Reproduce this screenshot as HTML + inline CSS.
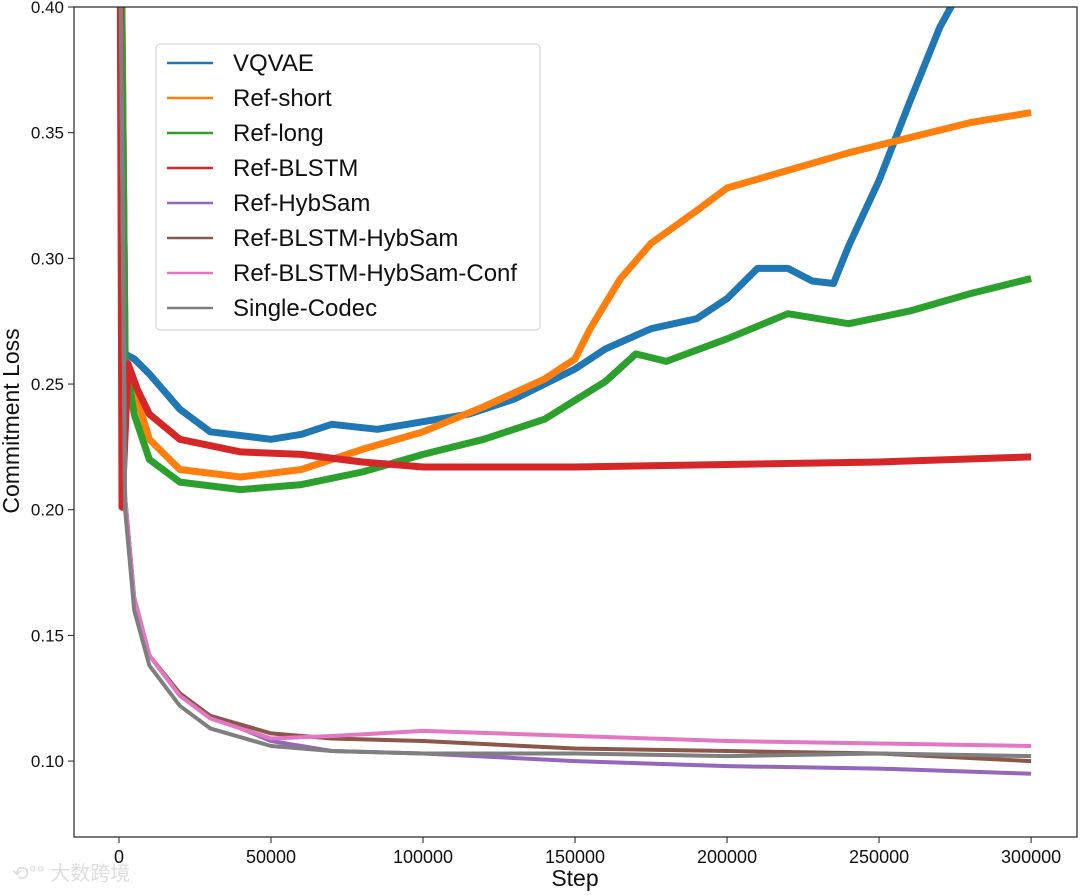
<!DOCTYPE html>
<html><head><meta charset="utf-8"><style>
body{margin:0;background:#fff;}
svg text{font-family:"Liberation Sans","DejaVu Sans",sans-serif;}
</style></head><body>
<svg id="chart" width="1080" height="891" xmlns="http://www.w3.org/2000/svg">
<rect width="1080" height="891" fill="#fff"/>
<g id="plot"></g>
<g id="axes"></g>
<g id="legend"></g>
<text x="19" y="421" font-size="23" text-anchor="middle" transform="rotate(-90 19 421)" fill="#111">Commitment Loss</text>
<text x="575" y="886" font-size="23" text-anchor="middle" fill="#111">Step</text>
<text x="12" y="880" font-size="20" fill="#ddd">⟲°° 大数跨境</text>
</svg>
<script>
const seriesNames=["VQVAE","Ref-short","Ref-long","Ref-BLSTM","Ref-HybSam","Ref-BLSTM-HybSam","Ref-BLSTM-HybSam-Conf","Single-Codec"];
const seriesColors=["#1f77b4","#ff7f0e","#2ca02c","#d62728","#9467bd","#8c564b","#e377c2","#7f7f7f"];
const xTicks=[0,50000,100000,150000,200000,250000,300000];
const yTicks=[0.10,0.15,0.20,0.25,0.30,0.35,0.40];
const vqvaeX=[800,2000,5000,10000,20000,30000,50000,60000,70000,85000,100000,115000,130000,150000,160000,175000,190000,200000,205000,210000,220000,228000,235000,240000,250000,260000,270000,275000];
const vqvaeY=[0.42,0.262,0.260,0.254,0.240,0.231,0.228,0.230,0.234,0.232,0.235,0.238,0.244,0.256,0.264,0.272,0.276,0.284,0.290,0.296,0.296,0.291,0.290,0.305,0.331,0.362,0.392,0.403];
const shortX=[800,2000,5000,10000,20000,40000,60000,80000,100000,120000,140000,150000,155000,165000,175000,190000,200000,220000,240000,260000,280000,300000];
const shortY=[0.42,0.26,0.248,0.228,0.216,0.213,0.216,0.224,0.231,0.241,0.252,0.260,0.272,0.292,0.306,0.319,0.328,0.335,0.342,0.348,0.354,0.358];
const longX=[800,2000,5000,10000,20000,40000,60000,80000,100000,120000,140000,160000,170000,180000,200000,220000,240000,260000,280000,300000];
const longY=[0.42,0.26,0.238,0.220,0.211,0.208,0.210,0.215,0.222,0.228,0.236,0.251,0.262,0.259,0.268,0.278,0.274,0.279,0.286,0.292];
const blstmX=[400,1000,3000,6000,10000,20000,40000,60000,80000,100000,150000,200000,250000,300000];
const blstmY=[0.42,0.201,0.258,0.248,0.238,0.228,0.223,0.222,0.219,0.217,0.217,0.218,0.219,0.221];
const lowX=[500,2000,5000,10000,20000,30000,50000,70000,100000,150000,200000,250000,300000];
const hybsamY=[0.42,0.205,0.165,0.142,0.126,0.118,0.108,0.104,0.103,0.100,0.098,0.097,0.095];
const blstmHybY=[0.42,0.205,0.165,0.142,0.127,0.118,0.111,0.109,0.108,0.105,0.104,0.103,0.100];
const confY=[0.42,0.205,0.165,0.142,0.126,0.117,0.109,0.110,0.112,0.110,0.108,0.107,0.106];
const singleY=[0.42,0.200,0.160,0.138,0.122,0.113,0.106,0.104,0.103,0.103,0.102,0.103,0.102];
const seriesX=[vqvaeX,shortX,longX,blstmX,lowX,lowX,lowX,lowX];
const seriesY=[vqvaeY,shortY,longY,blstmY,hybsamY,blstmHybY,confY,singleY];

const L=74,R=1077,T=7,B=837;
const xMin=-14800,xMax=315100,yMin=0.0698,yMax=0.40;
const sx=v=>L+(v-xMin)/(xMax-xMin)*(R-L);
const sy=v=>T+(yMax-v)/(yMax-yMin)*(B-T);
const NS="http://www.w3.org/2000/svg";
const mk=(t,a)=>{const e=document.createElementNS(NS,t);for(const k in a)e.setAttribute(k,a[k]);return e;};
const plot=document.getElementById('plot'),axes=document.getElementById('axes'),legend=document.getElementById('legend');
const defs=mk('defs',{});const cp=mk('clipPath',{id:'clip'});cp.appendChild(mk('rect',{x:L,y:T,width:R-L,height:B-T}));defs.appendChild(cp);document.getElementById('chart').appendChild(defs);
plot.setAttribute('clip-path','url(#clip)');
seriesNames.forEach((n,i)=>{
  const d=seriesX[i].map((x,j)=>(j?'L':'M')+sx(x).toFixed(1)+','+sy(seriesY[i][j]).toFixed(1)).join('');
  const p=mk('path',{d:d,fill:'none',stroke:seriesColors[i],'stroke-width':i<4?7:4,'stroke-linejoin':'round'});
  
  
  plot.appendChild(p);
});
const frame=mk('rect',{x:L,y:T,width:R-L,height:B-T,fill:'none',stroke:'#222','stroke-width':1.2});


axes.appendChild(frame);
xTicks.forEach(v=>{
  const x=sx(v);
  const tk=mk('line',{x1:x,x2:x,y1:B,y2:B+6,stroke:'#222'});
  
  
  axes.appendChild(tk);
  const t=mk('text',{x:x,y:B+26,'font-size':18,'text-anchor':'middle',fill:'#111'});t.textContent=v;
  
  
  axes.appendChild(t);
});
yTicks.forEach(v=>{
  const y=sy(v);
  const tk=mk('line',{x1:L-6,x2:L,y1:y,y2:y,stroke:'#222'});
  
  
  axes.appendChild(tk);
  const t=mk('text',{x:L-10,y:y+6,'font-size':17,'text-anchor':'end',fill:'#111'});t.textContent=v.toFixed(2);
  
  
  axes.appendChild(t);
});
const lb=mk('rect',{x:156,y:44,width:384,height:286,rx:4,fill:'#fff','fill-opacity':0.85,stroke:'#ccc'});


legend.appendChild(lb);
seriesNames.forEach((n,i)=>{
  const y=63+i*35;
  const g=mk('g',{});
  
  
  g.appendChild(mk('line',{x1:167,x2:213,y1:y,y2:y,stroke:seriesColors[i],'stroke-width':2.5}));
  const t=mk('text',{x:233,y:y+8,'font-size':24,fill:'#111'});t.textContent=n;g.appendChild(t);
  legend.appendChild(g);
});
</script>
</body></html>
